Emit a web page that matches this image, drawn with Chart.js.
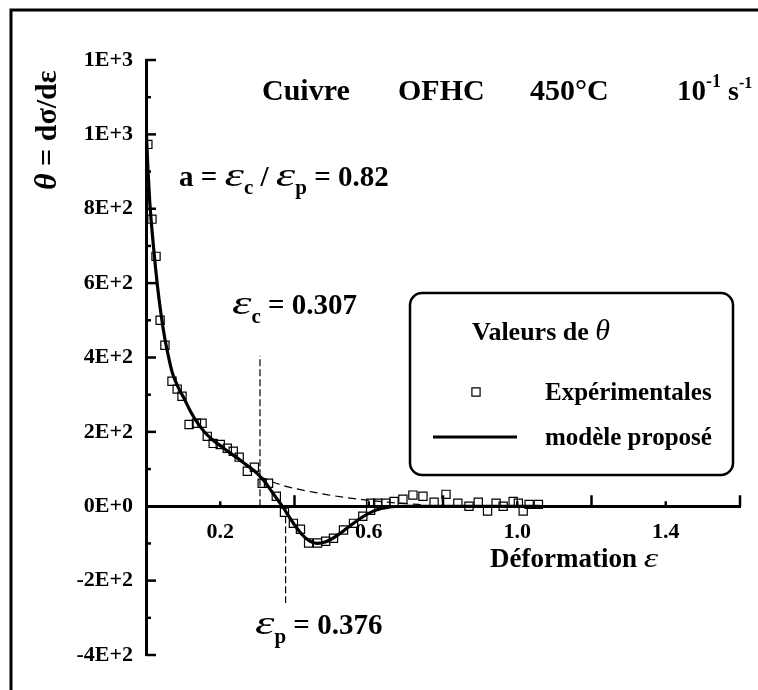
<!DOCTYPE html>
<html>
<head>
<meta charset="utf-8">
<script src="https://cdn.jsdelivr.net/npm/chart.js@4.4.1/dist/chart.umd.min.js"></script>
<style>
  html, body { margin: 0; padding: 0; background: #fff; }
  canvas { display: block; }
</style>
</head>
<body>
<canvas id="chart" width="758" height="690"></canvas>
<script>
// experimental hardening rate, copper OFHC 450 C, 0.1 s-1
const expStrain = [0.005, 0.016, 0.027, 0.038, 0.051, 0.070, 0.084, 0.097, 0.116, 0.136,
  0.151, 0.165, 0.181, 0.200, 0.219, 0.235, 0.251, 0.273, 0.292, 0.313,
  0.330, 0.351, 0.373, 0.397, 0.416, 0.438, 0.462, 0.484, 0.505, 0.532,
  0.559, 0.584, 0.605, 0.605, 0.624, 0.646, 0.668, 0.692, 0.719, 0.746,
  0.776, 0.808, 0.840, 0.870, 0.895, 0.920, 0.943, 0.962, 0.989, 1.003,
  1.016, 1.032, 1.057];
const expTheta = [973, 772, 672, 500, 433, 336, 315, 296, 220, 223,
  223, 188, 169, 166, 156, 148, 132, 94, 105, 62,
  62, 27, -16, -46, -62, -99, -99, -94, -86, -64,
  -46, -27, -11, 8, 8, 8, 13, 19, 30, 27,
  11, 32, 8, 0, 11, -13, 8, 0, 13, 8,
  -13, 5, 5];

// proposed model
const modelStrain = [0, 0.005, 0.01, 0.02, 0.03, 0.04, 0.05, 0.06, 0.07, 0.08,
  0.09, 0.10, 0.12, 0.14, 0.16, 0.18, 0.20, 0.22, 0.24, 0.26,
  0.28, 0.30, 0.307, 0.32, 0.34, 0.36, 0.37, 0.38, 0.40, 0.42,
  0.44, 0.46, 0.48, 0.50, 0.52, 0.54, 0.56, 0.58, 0.60, 0.62,
  0.65, 0.70, 0.80, 0.90, 1.00, 1.06];
const modelTheta = [1030, 910, 820, 700, 600, 520, 455, 405, 362, 335,
  313, 295, 255, 222, 197, 178, 163, 148, 134, 119,
  104, 88, 80, 66, 38, 10, -4, -20, -50, -76,
  -93, -100, -97, -88, -75, -60, -45, -31, -19, -10,
  -3, 0, 0, 0, 0, 0];

// hardening term alone beyond the critical strain
const extrapStrain = [0.307, 0.35, 0.40, 0.45, 0.50, 0.55, 0.60, 0.65, 0.70, 0.75];
const extrapTheta = [80, 62, 48, 38, 29, 22, 16, 11, 7, 4];

const epsC = 0.307;
const epsP = 0.376;
const ratioA = 0.82;
const epsCLine = [0, 405];
const epsPLine = [0, -260];

const yTickValues = [-400, -200, 0, 200, 400, 600, 800, 1000, 1200];
const yTickLabels = ['-4E+2', '-2E+2', '0E+0', '2E+2', '4E+2', '6E+2', '8E+2', '1E+3', '1E+3'];
const xTickValues = [0.2, 0.6, 1.0, 1.4];
const xTickLabels = ['0.2', '0.6', '1.0', '1.4'];

const SERIF = '"Liberation Serif", "Times New Roman", serif';
const B = s => `bold ${s}px ${SERIF}`;
const BI = s => `italic bold ${s}px ${SERIF}`;
const I = s => `italic ${s}px ${SERIF}`;

const pts = (xs, ys) => xs.map((x, i) => ({ x: x, y: ys[i] }));
const findLabel = (vals, labels, v) => {
  const i = vals.findIndex(t => Math.abs(t - v) < 1e-6);
  return i < 0 ? '' : labels[i];
};

// runs: [text, font, dy, horizontal stretch]
function drawRuns(ctx, x, y, runs) {
  runs.forEach(r => {
    const sx = r[3] || 1;
    ctx.font = r[1];
    ctx.save();
    ctx.translate(x, y + (r[2] || 0));
    ctx.scale(sx, 1);
    ctx.fillText(r[0], 0, 0);
    ctx.restore();
    x += ctx.measureText(r[0]).width * sx;
  });
  return x;
}

const EPS = ['ε', I(34), 0, 1.45];
const squareStyle = { pointStyle: 'rect', radius: 5.8, borderWidth: 1.2, rotation: 0 };

const decorations = {
  id: 'decorations',
  afterDraw(chart) {
    const ctx = chart.ctx;
    const area = chart.chartArea;
    const xs = chart.scales.x, ys = chart.scales.y;
    ctx.save();
    ctx.fillStyle = '#000';
    ctx.strokeStyle = '#000';
    ctx.textBaseline = 'alphabetic';
    ctx.textAlign = 'left';

    // inward ticks
    ctx.lineWidth = 2.5;
    ys.ticks.forEach(t => {
      const py = ys.getPixelForValue(t.value);
      const len = findLabel(yTickValues, yTickLabels, t.value) ? 10 : 5;
      ctx.beginPath();
      ctx.moveTo(area.left, py);
      ctx.lineTo(area.left + len, py);
      ctx.stroke();
    });
    const y0 = ys.getPixelForValue(0);
    xs.ticks.forEach(t => {
      if (t.value <= 0) return;
      const px = xs.getPixelForValue(t.value);
      const len = findLabel(xTickValues, xTickLabels, t.value) ? 5 : 11;
      ctx.beginPath();
      ctx.moveTo(px, y0);
      ctx.lineTo(px, y0 - len);
      ctx.stroke();
    });

    // page frame
    ctx.lineWidth = 3;
    ctx.beginPath();
    ctx.moveTo(11, 690);
    ctx.lineTo(11, 10);
    ctx.lineTo(758, 10);
    ctx.stroke();

    // heading
    drawRuns(ctx, 262, 100, [['Cuivre', B(30)]]);
    drawRuns(ctx, 398, 100, [['OFHC', B(30)]]);
    drawRuns(ctx, 530, 100, [['450°C', B(30)]]);
    drawRuns(ctx, 677, 100, [['10', B(29)], ['-1', B(18), -13], [' s', B(28)], ['-1', B(16), -12]]);

    // annotations
    drawRuns(ctx, 179, 186, [['a = ', B(29)], EPS, ['c', B(21), 8], [' / ', B(29)],
      EPS, ['p', B(21), 8], [' = ' + ratioA.toFixed(2), B(29)]]);
    drawRuns(ctx, 232, 314, [EPS, ['c', B(21), 9], [' = ' + epsC.toFixed(3), B(29)]]);
    drawRuns(ctx, 255, 634, [EPS, ['p', B(21), 9], [' = ' + epsP.toFixed(3), B(29)]]);

    // axis titles
    drawRuns(ctx, 490, 567, [['Déformation ', B(27)], ['ε', I(28), 0, 1.3]]);
    ctx.save();
    ctx.translate(56, 190);
    ctx.rotate(-Math.PI / 2);
    drawRuns(ctx, 0, 0, [['θ', BI(32)], [' = dσ/dε', B(30)]]);
    ctx.restore();

    // legend
    ctx.lineWidth = 2.5;
    ctx.beginPath();
    ctx.roundRect(410, 293, 323, 182, 12);
    ctx.stroke();
    drawRuns(ctx, 472, 340, [['Valeurs de ', B(26)], ['θ', I(30)]]);
    ctx.fillStyle = 'rgba(0,0,0,0)';
    ctx.lineWidth = squareStyle.borderWidth;
    Chart.helpers.drawPoint(ctx, squareStyle, 476, 392);
    ctx.fillStyle = '#000';
    drawRuns(ctx, 545, 400, [['Expérimentales', B(25)]]);
    ctx.lineWidth = 3;
    ctx.beginPath();
    ctx.moveTo(433, 437);
    ctx.lineTo(517, 437);
    ctx.stroke();
    drawRuns(ctx, 545, 445, [['modèle proposé', B(25)]]);
    ctx.restore();
  }
};

new Chart(document.getElementById('chart'), {
  type: 'line',
  data: {
    datasets: [
      {
        label: 'Expérimentales',
        data: pts(expStrain, expTheta),
        showLine: false,
        pointStyle: 'rect',
        pointRadius: squareStyle.radius,
        pointBorderWidth: squareStyle.borderWidth,
        pointBorderColor: '#000',
        pointBackgroundColor: 'rgba(0,0,0,0)',
        order: 0
      },
      {
        label: 'modèle proposé',
        data: pts(modelStrain, modelTheta),
        borderColor: '#000',
        borderWidth: 3.2,
        pointRadius: 0,
        cubicInterpolationMode: 'monotone',
        order: 1
      },
      {
        label: 'extrapolation',
        data: pts(extrapStrain, extrapTheta),
        borderColor: '#000',
        borderWidth: 1.2,
        borderDash: [8, 5],
        pointRadius: 0,
        cubicInterpolationMode: 'monotone',
        order: 2
      },
      {
        label: 'epsilon c',
        data: pts([epsC, epsC], epsCLine),
        borderColor: '#000',
        borderWidth: 1.2,
        borderDash: [7, 3],
        pointRadius: 0,
        order: 3
      },
      {
        label: 'epsilon p',
        data: pts([epsP, epsP], epsPLine),
        borderColor: '#000',
        borderWidth: 1.2,
        borderDash: [7, 3],
        pointRadius: 0,
        order: 3
      }
    ]
  },
  options: {
    responsive: false,
    devicePixelRatio: 1,
    animation: false,
    layout: { padding: { left: 0, top: 60, right: 18, bottom: 35 } },
    plugins: { legend: { display: false }, tooltip: { enabled: false } },
    scales: {
      x: {
        type: 'linear',
        position: { y: 0 },
        min: 0,
        max: 1.6,
        grid: { display: false, drawTicks: false },
        border: { display: true, color: '#000', width: 3 },
        ticks: {
          stepSize: 0.2,
          autoSkip: false,
          maxRotation: 0,
          padding: 13,
          color: '#000',
          font: { family: SERIF, size: 22, weight: 'bold' },
          callback: v => findLabel(xTickValues, xTickLabels, v)
        }
      },
      y: {
        type: 'linear',
        min: -400,
        max: 1200,
        afterFit: s => { s.width = 146; },
        grid: { display: false, drawTicks: false },
        border: { display: true, color: '#000', width: 3 },
        ticks: {
          stepSize: 100,
          autoSkip: false,
          padding: 13,
          color: '#000',
          font: { family: SERIF, size: 22, weight: 'bold' },
          callback: v => findLabel(yTickValues, yTickLabels, v)
        }
      }
    }
  },
  plugins: [decorations]
});
</script>
</body>
</html>
